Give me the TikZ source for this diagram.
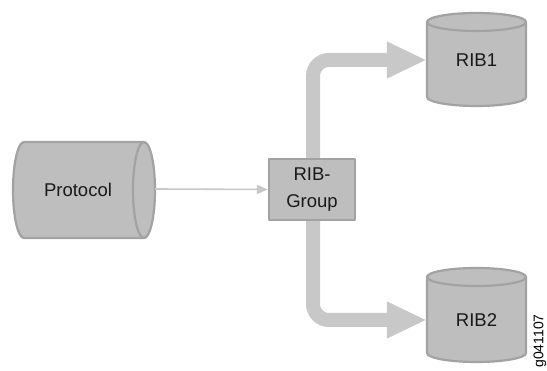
\documentclass[tikz,border=0pt]{standalone}
\usepackage{fontspec}
\setmainfont{Liberation Sans}
\usetikzlibrary{arrows.meta}
\definecolor{cylfill}{HTML}{BEBEBE}
\definecolor{cylline}{HTML}{A2A2A2}
\definecolor{pipe}{HTML}{C8C8C8}
\tikzset{
  shapebody/.style={fill=cylfill, draw=cylline, line width=2.2pt, line join=round},
  lbl/.style={font=\fontsize{18.5}{27}\selectfont, text=black!90, inner sep=0pt, align=center},
  thinarrow/.style={draw=pipe, line width=1.6pt, -{Triangle[length=11pt,width=9pt]}},
  fatarrow/.style={draw=pipe, line width=14pt, rounded corners=16pt, -{Triangle[length=40pt,width=34pt]}},
}
\begin{document}
\begin{tikzpicture}[x=1pt,y=1pt]
\useasboundingbox (0,0) rectangle (547,371);
% Protocol cylinder (horizontal)
\path[shapebody] (24,229) -- (144,229) arc[start angle=90,end angle=-90,x radius=11,y radius=48]
  -- (24,133) arc[start angle=270,end angle=90,x radius=11,y radius=48] -- cycle;
\draw[cylline, line width=2.2pt] (144,229) arc[start angle=90,end angle=270,x radius=11,y radius=48];
\node[lbl] (proto) at (78,181) {Protocol};
\coordinate (protoE) at (155,182);
% RIB1 cylinder
\path[shapebody] (427,349) -- (427,274) arc[start angle=180,end angle=360,x radius=49.5,y radius=9]
  -- (526,349) arc[start angle=0,end angle=180,x radius=49.5,y radius=9] -- cycle;
\draw[cylline, line width=2.2pt] (427,349) arc[start angle=180,end angle=360,x radius=49.5,y radius=9];
\node[lbl, minimum width=99pt] (rib1) at (476.5,311) {RIB1};
% RIB2 cylinder
\path[shapebody] (427,94) -- (427,18) arc[start angle=180,end angle=360,x radius=49.5,y radius=9]
  -- (526,94) arc[start angle=0,end angle=180,x radius=49.5,y radius=9] -- cycle;
\draw[cylline, line width=2.2pt] (427,94) arc[start angle=180,end angle=360,x radius=49.5,y radius=9];
\node[lbl, minimum width=99pt] (rib2) at (476.5,51) {RIB2};
% RIB-Group box
\node[shapebody, lbl, minimum width=86pt, minimum height=61pt] (rg) at (312,181.5) {RIB-\\Group};
% connectors
\draw[thinarrow] (protoE) -- (rg.west);
\draw[fatarrow] (rg.north -| 313,0) |- (rib1.west);
\draw[fatarrow] (rg.south -| 313,0) |- (rib2.west);
% figure id
\node[rotate=90, font=\fontsize{14}{16}\selectfont, inner sep=0pt] (gid) at (540,30) {g041107};
\end{tikzpicture}
\end{document}
